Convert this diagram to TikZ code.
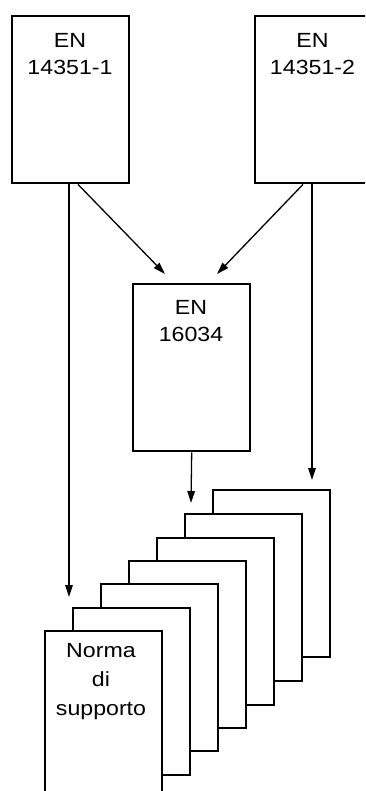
\documentclass[tikz,border=0pt]{standalone}
\usepackage{fontspec}
\setmainfont{Liberation Sans}[FakeStretch=1.13]
\usetikzlibrary{arrows.meta,calc}
\begin{document}
\begin{tikzpicture}[x=1pt,y=-1pt,
  box/.style={draw,line width=2.4pt,fill=white,minimum width=117pt,minimum height=167pt,inner sep=0pt,anchor=north west},
  lbl/.style={align=center,inner sep=0pt,anchor=north,font=\fontsize{20.5}{27}\selectfont},
  arr/.style={line width=1.3pt,-{Triangle[length=12pt,width=7.5pt]}}]
\useasboundingbox (0,0) rectangle (365,791);
\clip (0,0) rectangle (365,791);
% top boxes
\node[box] (b1) at (11,15) {};
\node[box] (b2) at (254,15) {};
\node[box] (b3) at (132,283) {};
\node[lbl] (t1) at (70,33.5) {EN\\14351-1};
\node[lbl] (t2) at (312.5,33.5) {EN\\14351-2};
\node[lbl] (t3) at (191,300.5) {EN\\16034};
% stack of pages, back to front
\foreach \x/\y [count=\i from 0] in {212/489,184/513,156/537,128/560,100/583,72/607,44/630}{
  \node[box] (p\i) at (\x,\y) {};
}
\node[lbl,font=\fontsize{20.5}{29}\selectfont] (t4) at (101,643.5) {Norma\\di\\supporto};
% connectors
\draw[arr] ($(b1.south west)+(67,0)$) -- ($(b3.north west)+(33,-9)$);
\draw[arr] ($(b2.south west)+(49,0)$) -- ($(b3.north west)+(85,-9)$);
\draw[arr] ($(b1.south west)+(58,0)$) -- ($(p5.north west)+(-3,-10)$);
\draw[arr] ($(b2.south west)+(58,0)$) -- ($(p0.north west)+(100,-9)$);
\draw[arr] (b3.south) -- ($(p1.north west)+(7,-10)$);
\end{tikzpicture}
\end{document}
